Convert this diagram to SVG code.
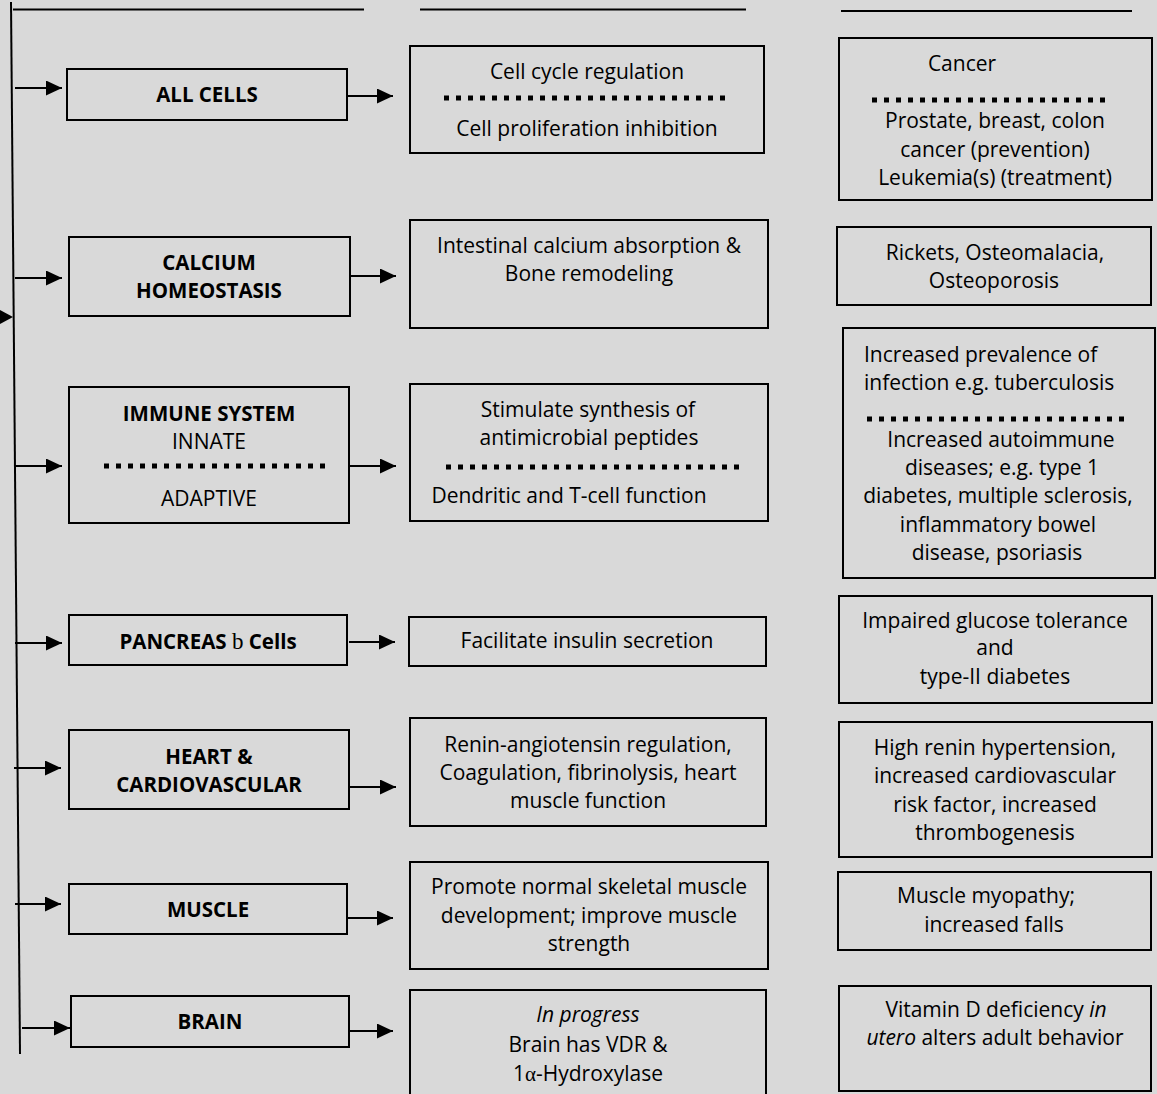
<svg xmlns="http://www.w3.org/2000/svg" width="1157" height="1094" viewBox="0 0 1157 1094">
<style>
.bg{fill:#d9d9d9}
.box{fill:#d9d9d9;stroke:#000;stroke-width:2}
.t{font-family:"Open Sans",Lato,"Liberation Sans",sans-serif;font-size:21px;fill:#000;text-anchor:middle}
.l{text-anchor:start}
.bd{font-weight:bold;font-size:20.5px}
.it{font-style:italic}
.sym{font-family:"Liberation Serif","DejaVu Serif",serif;font-weight:normal}
.dot{stroke:#000;stroke-width:5;stroke-dasharray:5 7;fill:none}
.rule{stroke:#000;stroke-width:2;fill:none}
.arr{stroke:#000;stroke-width:2;fill:none;marker-end:url(#ah)}
</style>
<defs>
<marker id="ah" viewBox="0 0 16 15" refX="16" refY="7.5" markerWidth="16" markerHeight="15" markerUnits="userSpaceOnUse" orient="auto">
<path d="M0,0 L16,7.5 L0,15 Z" fill="#000"/>
</marker>
</defs>
<rect class="bg" x="0" y="0" width="1157" height="1094"/>

<g id="connectors">
<line class="rule" x1="11" y1="2" x2="20" y2="1054"/>
<line class="rule" x1="13" y1="9.5" x2="364" y2="9.5"/>
<line class="rule" x1="420" y1="9.5" x2="746" y2="9.5"/>
<line class="rule" x1="841" y1="11" x2="1132" y2="11"/>
<path d="M0,310 L13,317 L0,324 Z" fill="#000"/>
<line class="arr" x1="15" y1="88" x2="62" y2="88"/>
<line class="arr" x1="15" y1="278" x2="62" y2="278"/>
<line class="arr" x1="15" y1="466" x2="62" y2="466"/>
<line class="arr" x1="15" y1="643" x2="62" y2="643"/>
<line class="arr" x1="14" y1="768" x2="61" y2="768"/>
<line class="arr" x1="15" y1="904" x2="61" y2="904"/>
<line class="arr" x1="22" y1="1028" x2="70" y2="1028"/>
<line class="arr" x1="347" y1="96" x2="393" y2="96"/>
<line class="arr" x1="350" y1="276" x2="396" y2="276"/>
<line class="arr" x1="349" y1="466" x2="396" y2="466"/>
<line class="arr" x1="349" y1="642" x2="395" y2="642"/>
<line class="arr" x1="349" y1="787" x2="396" y2="787"/>
<line class="arr" x1="347" y1="918" x2="393" y2="918"/>
<line class="arr" x1="348" y1="1031" x2="393" y2="1031"/>
</g>

<g id="all-cells">
<rect class="box" x="67" y="69" width="280" height="51"/>
<text class="t bd" x="207" y="102">ALL CELLS</text>
</g>
<g id="cell-cycle">
<rect class="box" x="410" y="46" width="354" height="107"/>
<text class="t" x="587" y="79">Cell cycle regulation</text>
<line class="dot" x1="444" y1="98" x2="728" y2="98"/>
<text class="t" x="587" y="136">Cell proliferation inhibition</text>
</g>
<g id="cancer">
<rect class="box" x="839" y="38" width="313" height="162"/>
<text class="t" x="962" y="71">Cancer</text>
<line class="dot" x1="872" y1="100" x2="1108" y2="100"/>
<text class="t" x="995" y="128">Prostate, breast, colon</text>
<text class="t" x="995" y="157">cancer (prevention)</text>
<text class="t" x="995" y="185">Leukemia(s) (treatment)</text>
</g>

<g id="calcium">
<rect class="box" x="69" y="237" width="281" height="79"/>
<text class="t bd" x="209" y="270">CALCIUM</text>
<text class="t bd" x="209" y="298">HOMEOSTASIS</text>
</g>
<g id="intestinal">
<rect class="box" x="410" y="220" width="358" height="108"/>
<text class="t" x="589" y="253">Intestinal calcium absorption &amp;</text>
<text class="t" x="589" y="281">Bone remodeling</text>
</g>
<g id="rickets">
<rect class="box" x="837" y="227" width="314" height="78"/>
<text class="t" x="995" y="260">Rickets, Osteomalacia,</text>
<text class="t" x="994" y="288">Osteoporosis</text>
</g>

<g id="immune">
<rect class="box" x="69" y="387" width="280" height="136"/>
<text class="t bd" x="209" y="421">IMMUNE SYSTEM</text>
<text class="t" x="209" y="449">INNATE</text>
<line class="dot" x1="104" y1="466" x2="328" y2="466"/>
<text class="t" x="209" y="506">ADAPTIVE</text>
</g>
<g id="antimicrobial">
<rect class="box" x="410" y="384" width="358" height="137"/>
<text class="t" x="588" y="417">Stimulate synthesis of</text>
<text class="t" x="589" y="445">antimicrobial peptides</text>
<line class="dot" x1="446" y1="467" x2="742" y2="467"/>
<text class="t" x="569" y="503">Dendritic and T-cell function</text>
</g>
<g id="immune-disease">
<rect class="box" x="843" y="328" width="312" height="250"/>
<text class="t l" x="864" y="362">Increased prevalence of</text>
<text class="t l" x="864" y="390">infection e.g. tuberculosis</text>
<line class="dot" x1="867" y1="419" x2="1125" y2="419"/>
<text class="t" x="1001" y="447">Increased autoimmune</text>
<text class="t" x="1002" y="475">diseases; e.g. type 1</text>
<text class="t" x="998" y="503">diabetes, multiple sclerosis,</text>
<text class="t" x="998" y="532">inflammatory bowel</text>
<text class="t" x="997" y="560">disease, psoriasis</text>
</g>

<g id="pancreas">
<rect class="box" x="69" y="615" width="278" height="50"/>
<text class="t bd" x="208" y="649">PANCREAS <tspan class="sym" font-size="23">b</tspan> Cells</text>
</g>
<g id="insulin">
<rect class="box" x="409" y="617" width="357" height="49"/>
<text class="t" x="587" y="648">Facilitate insulin secretion</text>
</g>
<g id="impaired">
<rect class="box" x="839" y="596" width="313" height="107"/>
<text class="t" x="995" y="628">Impaired glucose tolerance</text>
<text class="t" x="995" y="655">and</text>
<text class="t" x="995" y="684">type-II diabetes</text>
</g>

<g id="heart">
<rect class="box" x="69" y="730" width="280" height="79"/>
<text class="t bd" x="209" y="764">HEART &amp;</text>
<text class="t bd" x="209" y="792">CARDIOVASCULAR</text>
</g>
<g id="renin">
<rect class="box" x="410" y="718" width="356" height="108"/>
<text class="t" x="588" y="752">Renin-angiotensin regulation,</text>
<text class="t" x="588" y="780">Coagulation, fibrinolysis, heart</text>
<text class="t" x="588" y="808">muscle function</text>
</g>
<g id="hypertension">
<rect class="box" x="839" y="722" width="313" height="135"/>
<text class="t" x="995" y="755">High renin hypertension,</text>
<text class="t" x="995" y="783">increased cardiovascular</text>
<text class="t" x="995" y="812">risk factor, increased</text>
<text class="t" x="995" y="840">thrombogenesis</text>
</g>

<g id="muscle">
<rect class="box" x="69" y="884" width="278" height="50"/>
<text class="t bd" x="208" y="917">MUSCLE</text>
</g>
<g id="skeletal">
<rect class="box" x="410" y="862" width="358" height="107"/>
<text class="t" x="589" y="894">Promote normal skeletal muscle</text>
<text class="t" x="589" y="923">development; improve muscle</text>
<text class="t" x="589" y="951">strength</text>
</g>
<g id="myopathy">
<rect class="box" x="838" y="872" width="313" height="78"/>
<text class="t" x="986" y="903">Muscle myopathy;</text>
<text class="t" x="994" y="932">increased falls</text>
</g>

<g id="brain">
<rect class="box" x="71" y="996" width="278" height="51"/>
<text class="t bd" x="210" y="1029">BRAIN</text>
</g>
<g id="in-progress">
<rect class="box" x="410" y="990" width="356" height="110"/>
<text class="t it" x="588" y="1022">In progress</text>
<text class="t" x="588" y="1052">Brain has VDR &amp;</text>
<text class="t" x="588" y="1081">1<tspan class="sym">α</tspan>-Hydroxylase</text>
</g>
<g id="behavior">
<rect class="box" x="839" y="986" width="312" height="105"/>
<text class="t" x="996" y="1017">Vitamin D deficiency <tspan class="it">in</tspan></text>
<text class="t" x="995" y="1045"><tspan class="it">utero</tspan> alters adult behavior</text>
</g>
</svg>
